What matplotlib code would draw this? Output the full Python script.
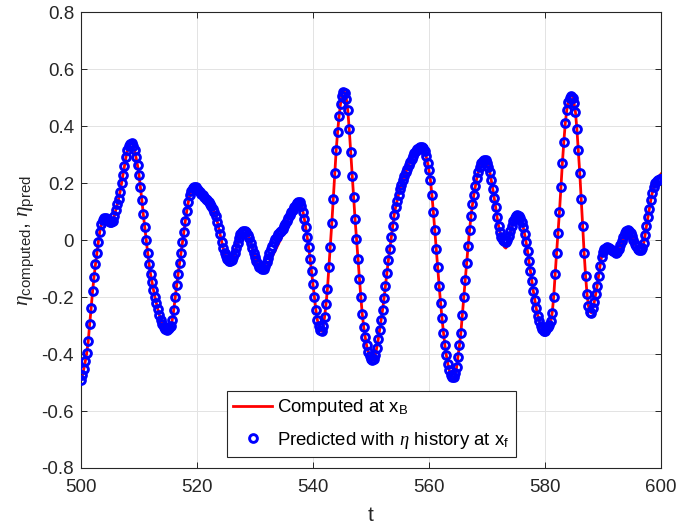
import numpy as np
import matplotlib
matplotlib.use("Agg")
import matplotlib.pyplot as plt

plt.rcParams['font.family'] = ['Liberation Sans', 'DejaVu Sans']
plt.rcParams['mathtext.fontset'] = 'custom'
plt.rcParams['mathtext.rm'] = 'Liberation Sans'
plt.rcParams['mathtext.it'] = 'Liberation Serif:italic'
plt.rcParams['axes.unicode_minus'] = False

# time samples (dt = 0.25 from 500 to 600)
t = np.linspace(500, 600, 401)

eta_pred = [
    -0.490, -0.475, -0.452, -0.425, -0.395, -0.355, -0.295, -0.240, -0.180, -0.130, -0.085, -0.045, -0.005, 0.030, 0.055, 0.070, 0.077, 0.078, 0.074, 0.067,
    0.062, 0.062, 0.068, 0.085, 0.105, 0.125, 0.145, 0.170, 0.200, 0.230, 0.260, 0.290, 0.315, 0.332, 0.338, 0.340, 0.330, 0.315, 0.290, 0.262,
    0.230, 0.185, 0.140, 0.090, 0.045, 0.000, -0.045, -0.085, -0.120, -0.148, -0.175, -0.200, -0.222, -0.243, -0.262, -0.280, -0.295, -0.305, -0.312, -0.315,
    -0.313, -0.310, -0.302, -0.280, -0.245, -0.200, -0.158, -0.118, -0.082, -0.045, -0.008, 0.030, 0.068, 0.103, 0.133, 0.157, 0.172, 0.182, 0.186, 0.185,
    0.180, 0.177, 0.170, 0.163, 0.157, 0.150, 0.145, 0.140, 0.135, 0.128, 0.120, 0.110, 0.098, 0.085, 0.065, 0.042, 0.020, -0.005, -0.027, -0.045,
    -0.057, -0.066, -0.072, -0.074, -0.070, -0.060, -0.045, -0.027, -0.010, 0.007, 0.020, 0.027, 0.031, 0.031, 0.027, 0.018, 0.006, -0.010, -0.028, -0.045,
    -0.060, -0.073, -0.085, -0.094, -0.099, -0.101, -0.100, -0.092, -0.078, -0.062, -0.047, -0.033, -0.020, -0.008, 0.003, 0.012, 0.020, 0.027, 0.033, 0.040,
    0.048, 0.057, 0.067, 0.077, 0.087, 0.097, 0.107, 0.116, 0.124, 0.130, 0.134, 0.133, 0.120, 0.100, 0.075, 0.045, 0.012, -0.025, -0.065, -0.110,
    -0.155, -0.200, -0.245, -0.280, -0.303, -0.317, -0.320, -0.303, -0.270, -0.225, -0.170, -0.095, -0.025, 0.060, 0.145, 0.235, 0.315, 0.380, 0.435, 0.478,
    0.507, 0.520, 0.516, 0.497, 0.455, 0.390, 0.310, 0.225, 0.150, 0.075, 0.005, -0.065, -0.135, -0.200, -0.260, -0.305, -0.340, -0.370, -0.392, -0.408,
    -0.418, -0.422, -0.417, -0.402, -0.378, -0.348, -0.315, -0.280, -0.245, -0.205, -0.160, -0.115, -0.070, -0.030, 0.010, 0.050, 0.088, 0.115, 0.138, 0.160,
    0.180, 0.195, 0.210, 0.225, 0.238, 0.250, 0.262, 0.274, 0.285, 0.295, 0.304, 0.312, 0.318, 0.323, 0.326, 0.326, 0.322, 0.312, 0.295, 0.272,
    0.245, 0.210, 0.160, 0.100, 0.035, -0.030, -0.095, -0.160, -0.220, -0.275, -0.325, -0.370, -0.405, -0.435, -0.457, -0.472, -0.480, -0.482, -0.467, -0.445,
    -0.410, -0.370, -0.325, -0.262, -0.200, -0.140, -0.080, -0.020, 0.035, 0.085, 0.125, 0.160, 0.190, 0.218, 0.240, 0.258, 0.270, 0.277, 0.280, 0.280,
    0.272, 0.258, 0.238, 0.210, 0.180, 0.148, 0.115, 0.080, 0.050, 0.028, 0.012, 0.002, -0.004, -0.006, 0.000, 0.015, 0.032, 0.050, 0.066, 0.078,
    0.085, 0.087, 0.085, 0.077, 0.065, 0.045, 0.020, -0.008, -0.040, -0.075, -0.110, -0.145, -0.180, -0.210, -0.240, -0.265, -0.285, -0.300, -0.312, -0.318,
    -0.318, -0.312, -0.305, -0.298, -0.285, -0.255, -0.200, -0.120, -0.045, 0.025, 0.100, 0.185, 0.270, 0.345, 0.410, 0.455, 0.483, 0.498, 0.505, 0.500,
    0.480, 0.450, 0.390, 0.315, 0.235, 0.145, 0.050, -0.045, -0.125, -0.190, -0.232, -0.252, -0.255, -0.240, -0.218, -0.190, -0.160, -0.125, -0.090, -0.060,
    -0.042, -0.033, -0.028, -0.026, -0.027, -0.030, -0.034, -0.039, -0.043, -0.045, -0.043, -0.033, -0.018, -0.003, 0.012, 0.024, 0.032, 0.035, 0.033, 0.025,
    0.013, 0.000, -0.012, -0.022, -0.030, -0.035, -0.035, -0.028, -0.010, 0.018, 0.050, 0.080, 0.110, 0.140, 0.165, 0.185, 0.200, 0.208, 0.212, 0.213,
    0.213,
]

eta_computed = [
    -0.490, -0.475, -0.452, -0.425, -0.395, -0.355, -0.295, -0.240, -0.180, -0.130, -0.085, -0.045, -0.005, 0.030, 0.055, 0.070, 0.077, 0.078, 0.074, 0.067,
    0.062, 0.062, 0.068, 0.085, 0.105, 0.125, 0.145, 0.170, 0.200, 0.230, 0.260, 0.290, 0.315, 0.332, 0.340, 0.342, 0.332, 0.315, 0.290, 0.262,
    0.230, 0.185, 0.140, 0.090, 0.045, 0.000, -0.045, -0.085, -0.120, -0.148, -0.175, -0.200, -0.222, -0.243, -0.262, -0.280, -0.295, -0.305, -0.312, -0.315,
    -0.313, -0.310, -0.302, -0.280, -0.245, -0.200, -0.158, -0.118, -0.082, -0.045, -0.008, 0.030, 0.068, 0.103, 0.133, 0.157, 0.172, 0.182, 0.186, 0.185,
    0.180, 0.177, 0.170, 0.163, 0.157, 0.150, 0.145, 0.140, 0.135, 0.128, 0.120, 0.110, 0.098, 0.085, 0.065, 0.042, 0.020, -0.005, -0.027, -0.045,
    -0.057, -0.066, -0.072, -0.074, -0.070, -0.060, -0.045, -0.027, -0.010, 0.007, 0.021, 0.030, 0.036, 0.038, 0.033, 0.021, 0.007, -0.010, -0.028, -0.045,
    -0.060, -0.073, -0.085, -0.094, -0.099, -0.101, -0.100, -0.097, -0.092, -0.085, -0.076, -0.066, -0.056, -0.046, -0.036, -0.026, -0.015, -0.005, 0.006, 0.017,
    0.030, 0.045, 0.060, 0.077, 0.087, 0.097, 0.107, 0.116, 0.125, 0.133, 0.139, 0.142, 0.128, 0.103, 0.076, 0.045, 0.012, -0.025, -0.065, -0.110,
    -0.155, -0.200, -0.245, -0.280, -0.303, -0.317, -0.320, -0.303, -0.270, -0.225, -0.170, -0.095, -0.025, 0.060, 0.145, 0.235, 0.315, 0.380, 0.435, 0.478,
    0.510, 0.525, 0.518, 0.497, 0.455, 0.390, 0.310, 0.225, 0.150, 0.075, 0.005, -0.065, -0.135, -0.200, -0.260, -0.305, -0.340, -0.370, -0.392, -0.408,
    -0.418, -0.422, -0.417, -0.402, -0.378, -0.348, -0.315, -0.280, -0.245, -0.205, -0.160, -0.115, -0.070, -0.030, 0.010, 0.050, 0.088, 0.115, 0.138, 0.160,
    0.180, 0.195, 0.210, 0.225, 0.238, 0.250, 0.262, 0.274, 0.285, 0.295, 0.304, 0.312, 0.318, 0.323, 0.326, 0.326, 0.322, 0.312, 0.295, 0.272,
    0.245, 0.210, 0.160, 0.100, 0.035, -0.030, -0.095, -0.160, -0.220, -0.275, -0.325, -0.370, -0.405, -0.435, -0.457, -0.472, -0.488, -0.495, -0.478, -0.448,
    -0.410, -0.370, -0.325, -0.262, -0.200, -0.140, -0.080, -0.020, 0.035, 0.085, 0.125, 0.160, 0.190, 0.218, 0.240, 0.258, 0.272, 0.280, 0.285, 0.285,
    0.276, 0.260, 0.238, 0.210, 0.180, 0.148, 0.115, 0.080, 0.050, 0.026, 0.008, -0.012, -0.024, -0.028, -0.020, 0.000, 0.025, 0.047, 0.065, 0.078,
    0.085, 0.087, 0.085, 0.077, 0.065, 0.045, 0.020, -0.008, -0.040, -0.075, -0.110, -0.145, -0.180, -0.210, -0.240, -0.265, -0.285, -0.300, -0.312, -0.318,
    -0.318, -0.312, -0.305, -0.298, -0.285, -0.255, -0.200, -0.120, -0.045, 0.025, 0.100, 0.185, 0.270, 0.345, 0.410, 0.455, 0.485, 0.505, 0.515, 0.505,
    0.482, 0.450, 0.390, 0.315, 0.235, 0.145, 0.050, -0.045, -0.125, -0.190, -0.232, -0.252, -0.255, -0.240, -0.218, -0.190, -0.160, -0.125, -0.090, -0.060,
    -0.042, -0.033, -0.028, -0.026, -0.027, -0.030, -0.036, -0.042, -0.050, -0.057, -0.058, -0.047, -0.028, -0.008, 0.010, 0.023, 0.032, 0.035, 0.033, 0.025,
    0.013, 0.000, -0.012, -0.024, -0.034, -0.042, -0.044, -0.035, -0.014, 0.016, 0.050, 0.080, 0.110, 0.140, 0.165, 0.187, 0.204, 0.214, 0.220, 0.226,
    0.232,
]

x_ticks = [500, 520, 540, 560, 580, 600]
y_ticks = [-0.8, -0.6, -0.4, -0.2, 0.0, 0.2, 0.4, 0.6, 0.8]
y_tick_labels = ['-0.8', '-0.6', '-0.4', '-0.2', '0', '0.2', '0.4', '0.6', '0.8']

label_computed = r'Computed at x$_{\mathrm{B}}$'
label_pred = r'Predicted with $\eta$ history at x$_{\mathrm{f}}$'

dark = '#262626'

fig = plt.figure(figsize=(6.81, 5.30), dpi=100)
ax = fig.add_axes([0.1189, 0.117, 0.8517, 0.860])

ax.plot(t, eta_computed, color='#ff0000', lw=2.0, label=label_computed, zorder=2)
ax.plot(t, eta_pred, ls='none', marker='o', ms=5.6, mfc='none', mec='#0000ff',
        mew=2.1, label=label_pred, zorder=3)

ax.set_xlim(500, 600)
ax.set_ylim(-0.8, 0.8)
ax.set_xticks(x_ticks)
ax.set_xticklabels([str(v) for v in x_ticks])
ax.set_yticks(y_ticks)
ax.set_yticklabels(y_tick_labels)

ax.grid(True, color='#e3e3e3', lw=0.7)
ax.set_axisbelow(True)
ax.tick_params(direction='in', length=4, width=0.7, top=True, right=True,
               colors=dark, labelsize=13.5)
ax.tick_params(axis='x', pad=8)
ax.tick_params(axis='y', pad=5)
for s in ax.spines.values():
    s.set_color(dark)
    s.set_linewidth(0.8)

ax.set_xlabel('t', fontsize=15, color=dark, labelpad=7)
ax.set_ylabel(r'$\eta_{\mathrm{computed}}$, $\eta_{\mathrm{pred}}$', fontsize=15.5,
              color=dark, labelpad=4)

leg = ax.legend(loc='lower left', bbox_to_anchor=(0.2517, 0.024), borderaxespad=0,
                fontsize=13.4, frameon=True, fancybox=False, framealpha=1,
                edgecolor=dark, handlelength=2.05, handletextpad=0.3,
                borderpad=0.35, labelspacing=0.6)
leg.get_frame().set_linewidth(0.8)
for txt in leg.get_texts():
    txt.set_color('black')

fig.savefig('out.png', dpi=100)
